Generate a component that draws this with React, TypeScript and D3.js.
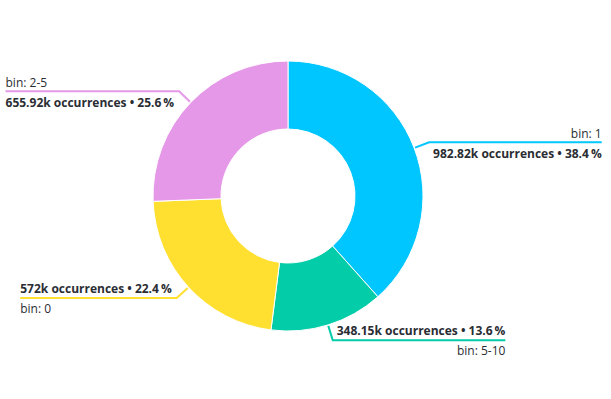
import { useRef, useEffect } from "react";
import * as d3 from "d3";

// slices in clockwise order starting at 12 o'clock
const bins = ["1", "5-10", "0", "2-5"];
const occurrences = [982.82, 348.15, 572, 655.92]; // thousands
const colors = ["#00C6FF", "#03CDA8", "#FFE030", "#E698E8"];

const W = 611;
const H = 399;

const App = () => {
    const svgRef = useRef(null);

    useEffect(() => {
        const svg = d3.select(svgRef.current);
        svg.selectAll("*").remove();

        const cx = 288;
        const cy = 196;
        const outerR = 135;
        const innerR = 67;
        const total = d3.sum(occurrences);

        const data = bins.map((b, i) => ({ bin: b, value: occurrences[i], color: colors[i] }));

        const pie = d3.pie<any>().sort(null).value(d => d.value);
        const arc = d3.arc<any>().innerRadius(innerR).outerRadius(outerR);
        const arcs = pie(data);

        const g = svg.append("g").attr("transform", `translate(${cx},${cy})`);

        g.selectAll("path.slice")
            .data(arcs)
            .join("path")
            .attr("class", "slice")
            .attr("d", arc)
            .attr("fill", d => d.data.color)
            .attr("stroke", "#fff")
            .attr("stroke-width", 1);

        // labels with leader lines
        arcs.forEach(a => {
            const mid = (a.startAngle + a.endAngle) / 2;
            const sx = Math.sin(mid), sy = -Math.cos(mid);
            const p0 = [sx * (outerR + 1), sy * (outerR + 1)];
            const p1 = [sx * (outerR + 16), sy * (outerR + 16)];
            const right = mid < Math.PI;
            const top = sy < 0;
            const pct = (a.data.value / total) * 100;
            const valueText = `${a.data.value}k occurrences • ${pct.toFixed(1)}\u2009%`;

            const lg = g.append("g");
            const bold = lg.append("text")
                .attr("font-family", "'Open Sans', sans-serif")
                .attr("font-size", 12)
                .attr("font-weight", 700)
                .attr("fill", "#2a2d33")
                .attr("text-anchor", right ? "start" : "end")
                .attr("x", p1[0] + (right ? 4 : -5))
                .attr("y", p1[1] + (top ? 16 : -5))
                .text(valueText);
            const w = (bold.node() as SVGTextElement).getComputedTextLength();
            const outerX = right ? p1[0] + 4 + w : p1[0] - 5 - w;

            lg.append("text")
                .attr("font-family", "'Open Sans', sans-serif")
                .attr("font-size", 12)
                .attr("fill", "#2a2d33")
                .attr("text-anchor", right ? "end" : "start")
                .attr("x", outerX)
                .attr("y", p1[1] + (top ? -4 : 15))
                .text(`bin: ${a.data.bin}`);

            lg.append("path")
                .attr("d", d3.line()([[p0[0], p0[1]], [p1[0], p1[1]], [outerX, p1[1]]]))
                .attr("fill", "none")
                .attr("stroke", a.data.color)
                .attr("stroke-width", 2);
        });
    }, []);

    return (
        <div style={{ position: "absolute", left: 0, top: 0, width: W, height: H, background: "#fff" }}>
            <svg ref={svgRef} width={W} height={H}></svg>
        </div>
    );
};

export default App;
